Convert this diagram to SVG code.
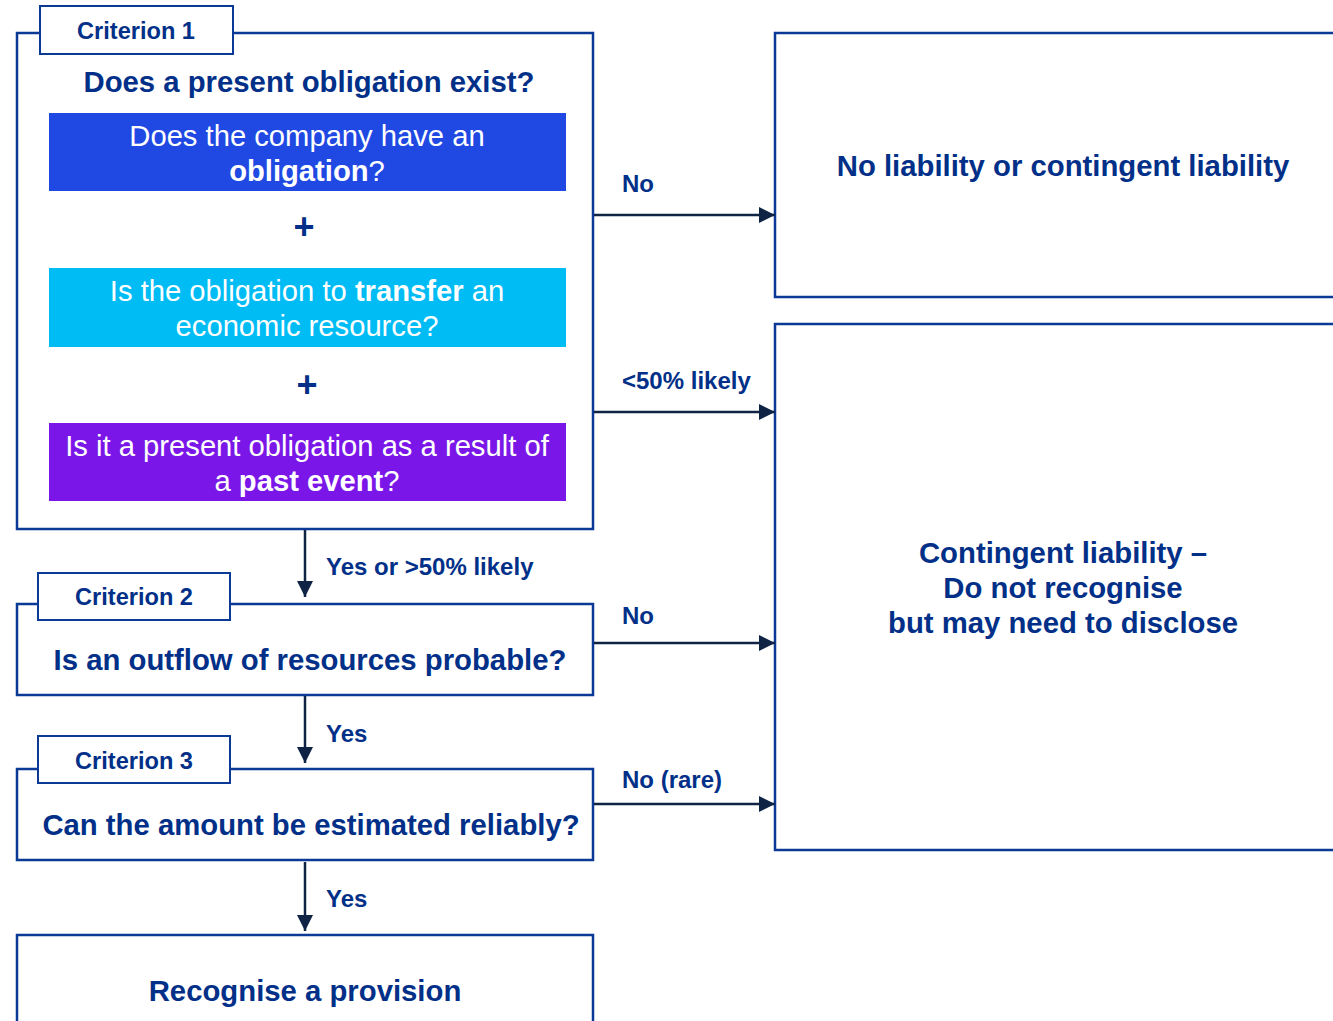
<svg xmlns="http://www.w3.org/2000/svg" width="1333" height="1021" viewBox="0 0 1333 1021">
<style>
  .box{fill:#fff;stroke:#0b3a96;stroke-width:2.5}
  .tab{fill:#fff;stroke:#0b3a96;stroke-width:2}
  .t{font-family:"Liberation Sans",Arial,sans-serif;fill:#023088;font-weight:bold;text-anchor:middle}
  .big{font-size:29.3px}
  .crit{font-size:23.6px}
  .lbl{font-family:"Liberation Sans",Arial,sans-serif;fill:#023088;font-weight:bold;font-size:24px}
  .w{font-family:"Liberation Sans",Arial,sans-serif;fill:#fff;font-size:29.2px;text-anchor:middle}
  .b{font-weight:bold}
  .plus{font-family:"Liberation Sans",Arial,sans-serif;fill:#023088;font-weight:bold;font-size:36px;text-anchor:middle}
  .conn{stroke:#0f2444;stroke-width:2.5;fill:none;marker-end:url(#ah)}
</style>
<defs>
  <marker id="ah" viewBox="0 0 16 16" refX="16" refY="8" markerWidth="16" markerHeight="16" markerUnits="userSpaceOnUse" orient="auto">
    <path d="M0,0 L16,8 L0,16 Z" fill="#0f2444"/>
  </marker>
</defs>
<rect width="1333" height="1021" fill="#fff"/>

<g id="criterion1">
  <rect class="box" x="17" y="33" width="576" height="496"/>
  <rect class="tab" x="40" y="6" width="193" height="48"/>
  <text class="t crit" x="136" y="39">Criterion 1</text>
  <text class="t big" x="309" y="92">Does a present obligation exist?</text>
  <g id="sub-obligation">
    <rect x="49" y="113" width="517" height="78" fill="#2049e3"/>
    <text class="w" x="307" y="146">Does the company have an</text>
    <text class="w" x="307" y="181"><tspan class="b">obligation</tspan>?</text>
  </g>
  <text class="plus" x="304" y="239">+</text>
  <g id="sub-transfer">
    <rect x="49" y="268" width="517" height="79" fill="#00bcf5"/>
    <text class="w" x="307" y="301">Is the obligation to <tspan class="b">transfer</tspan> an</text>
    <text class="w" x="307" y="336">economic resource?</text>
  </g>
  <text class="plus" x="307" y="397">+</text>
  <g id="sub-past">
    <rect x="49" y="423" width="517" height="78" fill="#7a17e8"/>
    <text class="w" x="307" y="456">Is it a present obligation as a result of</text>
    <text class="w" x="307" y="491">a <tspan class="b">past event</tspan>?</text>
  </g>
</g>

<g id="criterion2">
  <rect class="box" x="17" y="604" width="576" height="91"/>
  <rect class="tab" x="38" y="573" width="192" height="47"/>
  <text class="t crit" x="134" y="605">Criterion 2</text>
  <text class="t big" x="310" y="670">Is an outflow of resources probable?</text>
</g>

<g id="criterion3">
  <rect class="box" x="17" y="769" width="576" height="91"/>
  <rect class="tab" x="38" y="736" width="192" height="47"/>
  <text class="t crit" x="134" y="769">Criterion 3</text>
  <text class="t big" x="311" y="835">Can the amount be estimated reliably?</text>
</g>

<g id="provision">
  <rect class="box" x="17" y="935" width="576" height="110"/>
  <text class="t big" x="305" y="1001">Recognise a provision</text>
</g>

<g id="no-liability">
  <rect class="box" x="775" y="33" width="580" height="264"/>
  <text class="t big" x="1063" y="176">No liability or contingent liability</text>
</g>

<g id="contingent">
  <rect class="box" x="775" y="324" width="580" height="526"/>
  <text class="t big" x="1063" y="563">Contingent liability –</text>
  <text class="t big" x="1063" y="598">Do not recognise</text>
  <text class="t big" x="1063" y="633">but may need to disclose</text>
</g>

<g id="connectors">
  <line class="conn" x1="594" y1="215" x2="775" y2="215"/>
  <line class="conn" x1="594" y1="412" x2="775" y2="412"/>
  <line class="conn" x1="594" y1="643" x2="775" y2="643"/>
  <line class="conn" x1="594" y1="804" x2="775" y2="804"/>
  <line class="conn" x1="305" y1="530" x2="305" y2="597"/>
  <line class="conn" x1="305" y1="696" x2="305" y2="763"/>
  <line class="conn" x1="305" y1="862" x2="305" y2="931"/>
  <text class="lbl" x="622" y="192">No</text>
  <text class="lbl" x="622" y="389">&lt;50% likely</text>
  <text class="lbl" x="622" y="624">No</text>
  <text class="lbl" x="622" y="788">No (rare)</text>
  <text class="lbl" x="326" y="575">Yes or &gt;50% likely</text>
  <text class="lbl" x="326" y="742">Yes</text>
  <text class="lbl" x="326" y="907">Yes</text>
</g>
</svg>
